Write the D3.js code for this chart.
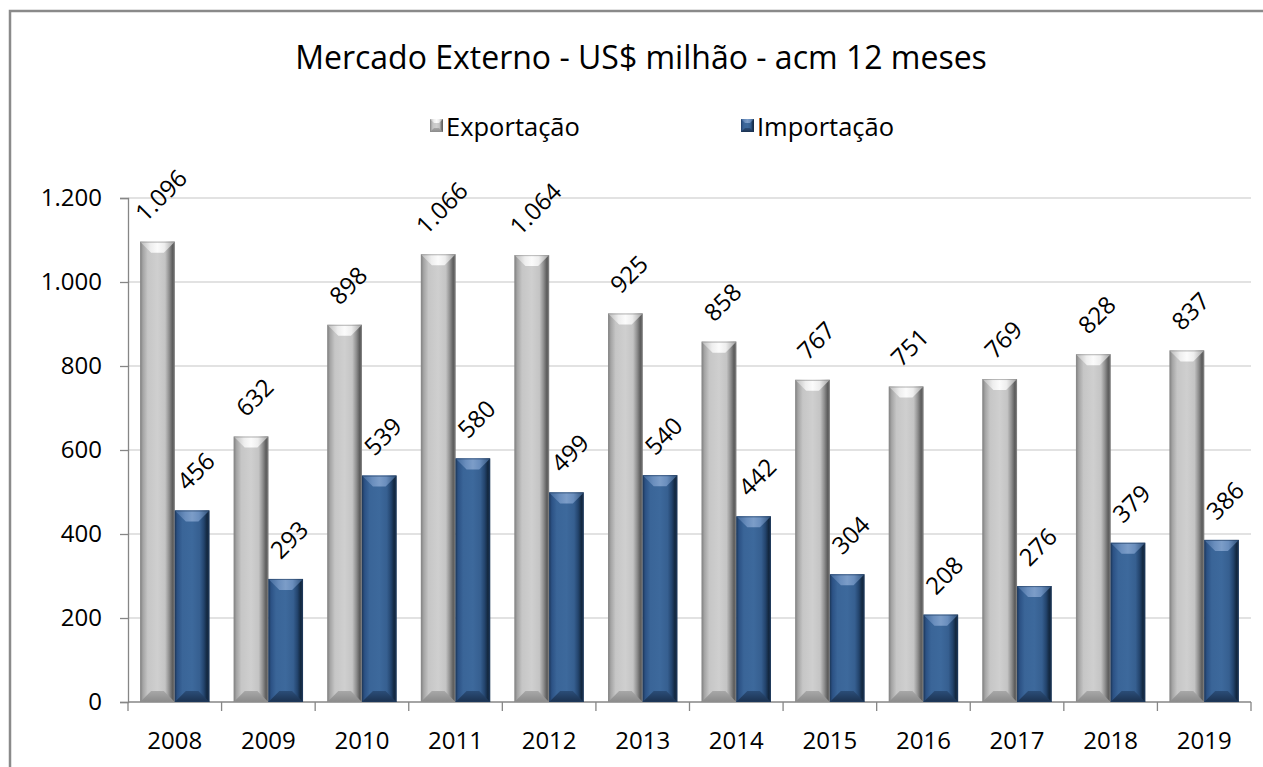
<!DOCTYPE html>
<html>
<head>
<meta charset="utf-8">
<style>
  body { margin: 0; background: #fff; overflow: hidden; }
  svg { display: block; }
  svg text { font-family: "Open Sans", sans-serif; fill: #000; }
</style>
<script src="https://d3js.org/d3.v7.min.js"></script>
</head>
<body>
<svg width="1263" height="767"></svg>
<script>
const years = ['2008','2009','2010','2011','2012','2013','2014','2015','2016','2017','2018','2019'];
const exportacao = [1096, 632, 898, 1066, 1064, 925, 858, 767, 751, 769, 828, 837];
const importacao = [456, 293, 539, 580, 499, 540, 442, 304, 208, 276, 379, 386];
const seriesNames = ['Exportação', 'Importação'];
const yTicks = [0, 200, 400, 600, 800, 1000, 1200];

const svg = d3.select('svg');
const fmt = v => d3.format(',')(v).replace(/,/g, '.');

// outer frame: only top and left edges are inside the picture
svg.append('path')
  .attr('d', 'M10,767 L10,11 L1263,11')
  .attr('fill', 'none').attr('stroke', '#8a8a8a').attr('stroke-width', 2.5);

const x0 = d3.scaleBand().domain(years).range([128, 1251]).paddingInner(0).paddingOuter(0);
// gap width 70% like excel
const gap = 0.7;
const barW = x0.bandwidth() / (2 + gap);
const x1 = d3.scaleBand().domain(seriesNames).range([barW * gap / 2, barW * gap / 2 + 2 * barW]);
const y = d3.scaleLinear().domain([0, 1200]).range([702, 198]);

// gradients
const defs = svg.append('defs');
function hGrad(id, stops) {
  const g = defs.append('linearGradient').attr('id', id).attr('x1', 0).attr('x2', 1).attr('y1', 0).attr('y2', 0);
  stops.forEach(s => g.append('stop').attr('offset', s[0]).attr('stop-color', s[1]));
}
function vGrad(id, stops) {
  const g = defs.append('linearGradient').attr('id', id).attr('x1', 0).attr('x2', 0).attr('y1', 0).attr('y2', 1);
  stops.forEach(s => g.append('stop').attr('offset', s[0]).attr('stop-color', s[1]));
}
hGrad('gBody', [[0,'#7e7e7e'],[0.08,'#a4a4a4'],[0.22,'#c6c6c6'],[0.5,'#cfcfcf'],[0.72,'#c4c4c4'],[0.84,'#8e8e8e'],[0.93,'#5e5e5e'],[1,'#6a6a6a']]);
hGrad('bBody', [[0,'#1e3a5f'],[0.08,'#2c5285'],[0.22,'#3a6598'],[0.5,'#3d699c'],[0.72,'#365f90'],[0.84,'#23446d'],[0.93,'#132840'],[1,'#1c3452']]);
hGrad('gTop', [[0,'#b8b8b8'],[0.3,'#eeeeee'],[0.5,'#fbfbfb'],[0.7,'#eeeeee'],[1,'#a0a0a0']]);
hGrad('bTop', [[0,'#3f6698'],[0.3,'#6a8ebd'],[0.5,'#7c9dc8'],[0.7,'#6a8ebd'],[1,'#2f5078']]);
vGrad('gBot', [[0,'#a8a8a8'],[1,'#8a8a8a']]);
vGrad('bBot', [[0,'#2b4d78'],[1,'#1b3250']]);

const styles = {
  'Exportação': { body: 'url(#gBody)', top: 'url(#gTop)', bot: 'url(#gBot)', edge: '#8d8d8d' },
  'Importação': { body: 'url(#bBody)', top: 'url(#bTop)', bot: 'url(#bBot)', edge: '#203c60' }
};

// grid lines
svg.append('g').selectAll('line').data(yTicks.filter(d => d > 0)).enter().append('line')
  .attr('x1', 128).attr('x2', 1251)
  .attr('y1', d => y(d)).attr('y2', d => y(d))
  .attr('stroke', '#d9d9d9').attr('stroke-width', 1.3);

// y axis
const yAxis = svg.append('g').attr('transform', 'translate(128,0)')
  .call(d3.axisLeft(y).tickValues(yTicks).tickSize(8).tickPadding(18).tickFormat(fmt));
yAxis.select('.domain').attr('stroke', '#868686').attr('stroke-width', 1.3);
yAxis.selectAll('.tick line').attr('stroke', '#868686').attr('stroke-width', 1.3);
yAxis.selectAll('.tick text').attr('font-size', 24).attr('font-family', '"Open Sans", sans-serif').attr('fill', '#000');

// x axis
svg.append('line').attr('x1', 128).attr('x2', 1251).attr('y1', 702).attr('y2', 702)
  .attr('stroke', '#868686').attr('stroke-width', 1.3);
const edges = years.map(d => x0(d)).concat([x0(years[years.length - 1]) + x0.bandwidth()]);
svg.append('g').selectAll('line').data(edges).enter().append('line')
  .attr('x1', d => d).attr('x2', d => d).attr('y1', 702).attr('y2', 711)
  .attr('stroke', '#868686').attr('stroke-width', 1.3);
svg.append('g').selectAll('text').data(years).enter().append('text')
  .attr('x', d => x0(d) + x0.bandwidth() / 2).attr('y', 739)
  .attr('text-anchor', 'middle').attr('dominant-baseline', 'central')
  .attr('font-size', 24).text(d => d);

// bars
const rows = [];
years.forEach((yr, i) => {
  rows.push({ yr, s: 'Exportação', v: exportacao[i] });
  rows.push({ yr, s: 'Importação', v: importacao[i] });
});

const bars = svg.append('g').selectAll('g').data(rows).enter().append('g');
bars.each(function(d) {
  const g = d3.select(this);
  const bx = x0(d.yr) + x1(d.s);
  const w = x1.bandwidth();
  const top = y(d.v), h = y(0) - top;
  const b = Math.min(11, h / 2);
  const st = styles[d.s];
  g.append('rect').attr('x', bx).attr('y', top).attr('width', w).attr('height', h).attr('fill', st.body);
  g.append('polygon')
    .attr('points', [[bx, top], [bx + w, top], [bx + w - b, top + b], [bx + b, top + b]].join(' '))
    .attr('fill', st.top);
  g.append('polygon')
    .attr('points', [[bx, top + h], [bx + w, top + h], [bx + w - b, top + h - b], [bx + b, top + h - b]].join(' '))
    .attr('fill', st.bot);
  g.append('rect').attr('x', bx + 0.5).attr('y', top + 0.5).attr('width', w - 1).attr('height', h - 1)
    .attr('fill', 'none').attr('stroke', st.edge).attr('stroke-width', 1).attr('stroke-opacity', 0.6);
});

// value labels rotated -45
const labels = svg.append('g').selectAll('text').data(rows).enter().append('text')
  .attr('font-size', 24).attr('text-anchor', 'middle').attr('dominant-baseline', 'central')
  .text(d => fmt(d.v));
labels.each(function(d) {
  const L = this.getComputedTextLength();
  const half = (L + 18) * 0.7071 / 2;
  const cx = x0(d.yr) + x1(d.s) + x1.bandwidth() / 2 + 3;
  const cy = y(d.v) - 19 - half;
  d3.select(this).attr('transform', `translate(${cx},${cy}) rotate(-45)`);
});

// title
svg.append('text').attr('x', 641).attr('y', 56).attr('text-anchor', 'middle')
  .attr('dominant-baseline', 'central').attr('font-size', 32).text('Mercado Externo - US$ milhão - acm 12 meses');

// legend
const legX = [430, 741];
const leg = svg.append('g').selectAll('g').data(seriesNames).enter().append('g')
  .attr('transform', (d, i) => `translate(${legX[i]},119)`);
leg.each(function(d) {
  const g = d3.select(this);
  const st = styles[d];
  g.append('rect').attr('width', 13).attr('height', 13).attr('fill', st.body);
  g.append('polygon').attr('points', '0,0 13,0 9,4 4,4').attr('fill', st.top);
  g.append('polygon').attr('points', '0,13 13,13 9,9 4,9').attr('fill', st.bot);
  g.append('text').attr('x', 16).attr('y', 7).attr('dominant-baseline', 'central')
    .attr('font-size', 25.5).text(d);
});
</script>
</body>
</html>
